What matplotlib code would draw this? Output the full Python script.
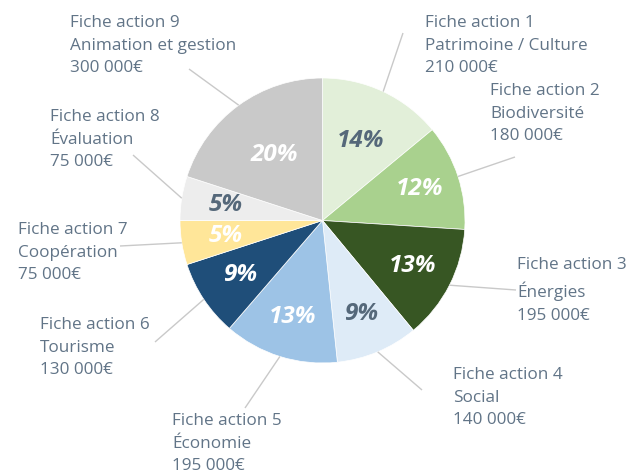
import numpy as np
import matplotlib.pyplot as plt

# Budget par fiche action (en euros)
fiches = ['Fiche action 1', 'Fiche action 2', 'Fiche action 3', 'Fiche action 4',
          'Fiche action 5', 'Fiche action 6', 'Fiche action 7', 'Fiche action 8',
          'Fiche action 9']
themes = ['Patrimoine / Culture', 'Biodiversité', 'Énergies', 'Social',
          'Économie', 'Tourisme', 'Coopération', 'Évaluation',
          'Animation et gestion']
montants = [210000, 180000, 195000, 140000, 195000, 130000, 75000, 75000, 300000]

couleurs = ['#e2efd9', '#a9d18e', '#375623', '#deebf7', '#9dc3e6',
            '#1f4e79', '#ffe699', '#ededed', '#c9c9c9']
couleurs_pct = ['#55687a', 'white', 'white', '#55687a', 'white',
                'white', 'white', '#55687a', 'white']
dist_pct = [0.62, 0.72, 0.71, 0.71, 0.71, 0.69, 0.69, 0.69, 0.57]

# position des étiquettes (coin haut gauche, en pixels) et bout des traits
pos_etiq = [(425, 15), (490, 83), (517, 257), (453, 367), (172, 413),
            (40, 317), (18, 222), (50, 109), (70, 15)]
bout_trait = [(403, 33), (515, 157), (516, 290), (422, 390), (245, 408),
              (155, 342), (120, 246), (133, 155), (189, 69)]

W, H = 636, 476
cx, cy, R = 322.5, 220.5, 142.5
gris_texte = '#617487'


def euros(v):
    return f"{v:,}".replace(',', ' ') + '€'


fig = plt.figure(figsize=(W / 100, H / 100), dpi=100)
ax = fig.add_axes([0, 0, 1, 1])

ax.pie(montants, colors=couleurs, startangle=90, counterclock=False,
       center=(cx, H - cy), radius=R,
       wedgeprops=dict(edgecolor='white', linewidth=0.5))
ax.set_xlim(0, W)
ax.set_ylim(0, H)
ax.set_aspect('equal')
ax.axis('off')

total = sum(montants)
cumul = 0
for i, v in enumerate(montants):
    # angle du milieu de la part, compté depuis midi dans le sens horaire
    a = np.deg2rad((cumul + v / 2) / total * 360)
    cumul += v
    sx, sy = np.sin(a), np.cos(a)

    d = dist_pct[i] * R
    ax.text(cx + d * sx, H - cy + d * sy, f"{round(v / total * 100)}%",
            ha='center', va='center', fontsize=17.5, fontweight='bold',
            fontstyle='italic', color=couleurs_pct[i], family='Open Sans')

    ex, ey = bout_trait[i]
    ax.plot([cx + R * sx, ex], [H - cy + R * sy, H - ey],
            color='#c9c9c9', lw=1, solid_capstyle='butt')

    tx, ty = pos_etiq[i]
    ax.text(tx, H - ty, f"{fiches[i]}\n{themes[i]}\n{euros(v)}",
            ha='left', va='top', fontsize=12.3, color=gris_texte,
            family='Open Sans', linespacing=1.56)

fig.savefig('out.png', dpi=100)
